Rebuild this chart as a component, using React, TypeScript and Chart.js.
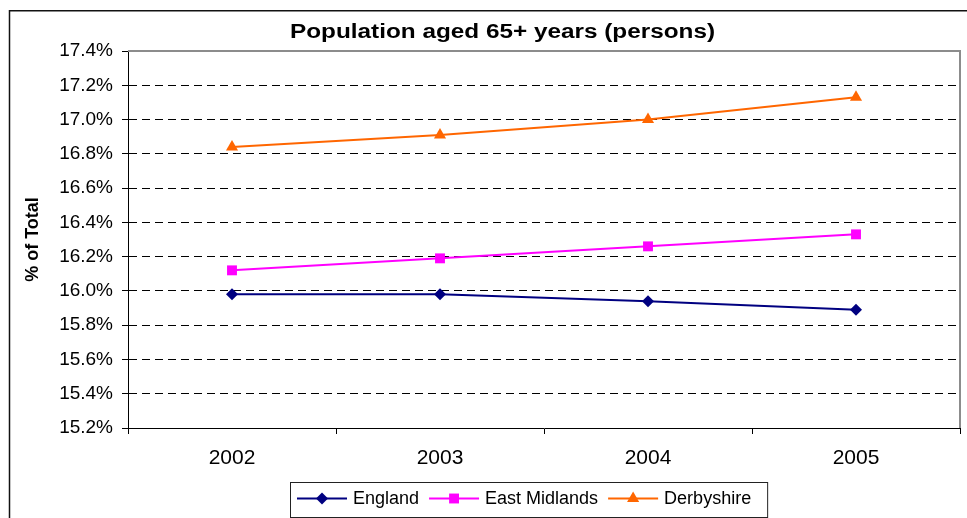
import React, { useEffect, useRef } from 'react';
import { Chart, registerables } from 'chart.js';

Chart.register(...registerables);

// Share of the population aged 65 and over, per area and year
const years = ['2002', '2003', '2004', '2005'];
const england = [15.98, 15.98, 15.94, 15.89];
const eastMidlands = [16.12, 16.19, 16.26, 16.33];
const derbyshire = [16.84, 16.91, 17.0, 17.13];

const seriesLabels = ['England', 'East Midlands', 'Derbyshire'];
const yMin = 15.2;
const yMax = 17.4;
const yStep = 0.2;

const chartTitle = 'Population aged 65+ years (persons)';
const yAxisTitle = '% of Total';

const FONT = '"Liberation Sans", Arial, Helvetica, sans-serif';

function drawMarker(ctx: CanvasRenderingContext2D, style: string, x: number, y: number, r: number, color: string) {
  ctx.save();
  ctx.fillStyle = color;
  ctx.beginPath();
  if (style === 'rectRot') {
    ctx.moveTo(x, y - r);
    ctx.lineTo(x + r, y);
    ctx.lineTo(x, y + r);
    ctx.lineTo(x - r, y);
  } else if (style === 'rect') {
    const s = r * Math.SQRT1_2;
    ctx.rect(x - s, y - s, 2 * s, 2 * s);
  } else {
    for (let i = 0; i < 3; i++) {
      const a = (i * 2 * Math.PI) / 3;
      const px = x + Math.sin(a) * r;
      const py = y - Math.cos(a) * r;
      if (i === 0) ctx.moveTo(px, py);
      else ctx.lineTo(px, py);
    }
  }
  ctx.closePath();
  ctx.fill();
  ctx.restore();
}

// White page, outer frame and the grey top/right edges of the plot area
const framePlugin = {
  id: 'frame',
  beforeDraw(chart: any) {
    const { ctx, width, height } = chart;
    ctx.save();
    ctx.fillStyle = '#ffffff';
    ctx.fillRect(0, 0, width, height);
    ctx.strokeStyle = '#111';
    ctx.lineWidth = 1.5;
    ctx.beginPath();
    ctx.moveTo(9.5, height);
    ctx.lineTo(9.5, 10.75);
    ctx.lineTo(width, 10.75);
    ctx.stroke();
    ctx.restore();
  },
  beforeDatasetsDraw(chart: any) {
    const { ctx, chartArea } = chart;
    ctx.save();
    ctx.strokeStyle = '#8c8c8c';
    ctx.lineWidth = 2;
    ctx.beginPath();
    ctx.moveTo(chartArea.left, chartArea.top);
    ctx.lineTo(chartArea.right, chartArea.top);
    ctx.lineTo(chartArea.right, chartArea.bottom);
    ctx.stroke();
    ctx.restore();
  },
};

// Bold chart heading, widened to the heading's box
const titlePlugin = {
  id: 'wideTitle',
  afterDraw(chart: any) {
    const { ctx } = chart;
    ctx.save();
    ctx.font = `bold 20px ${FONT}`;
    ctx.fillStyle = '#000';
    ctx.textAlign = 'center';
    ctx.textBaseline = 'alphabetic';
    const w = ctx.measureText(chartTitle).width;
    const sx = 425 / w;
    ctx.translate(502.5, 37.5);
    ctx.scale(sx, 1);
    ctx.fillText(chartTitle, 0, 0);
    ctx.restore();
  },
};

// Boxed legend below the axis: line sample with marker, then the label
const legendPlugin = {
  id: 'boxLegend',
  afterDraw(chart: any) {
    const { ctx } = chart;
    ctx.save();
    ctx.font = `18px ${FONT}`;
    const lineLen = 50;
    const gap = 6;
    const itemGap = 10;
    const padL = 7;
    const padR = 16;
    const items = chart.data.datasets.map((ds: any) => ({
      label: ds.label,
      color: ds.borderColor,
      style: ds.pointStyle,
      r: ds.pointRadius,
      w: ctx.measureText(ds.label).width,
    }));
    let total = padL + padR;
    items.forEach((it: any, i: number) => {
      total += lineLen + gap + it.w + (i < items.length - 1 ? itemGap : 0);
    });
    const left = 290;
    const top = 482;
    const boxH = 35;
    ctx.fillStyle = '#fff';
    ctx.fillRect(left, top, total, boxH);
    ctx.strokeStyle = '#222';
    ctx.lineWidth = 1;
    ctx.strokeRect(left + 0.5, top + 0.5, total, boxH);
    const cy = top + 16.5;
    let x = left + padL;
    items.forEach((it: any) => {
      ctx.strokeStyle = it.color;
      ctx.lineWidth = 2;
      ctx.beginPath();
      ctx.moveTo(x, cy);
      ctx.lineTo(x + lineLen, cy);
      ctx.stroke();
      drawMarker(ctx, it.style, x + lineLen / 2, cy, it.r, it.color);
      ctx.fillStyle = '#000';
      ctx.textAlign = 'left';
      ctx.textBaseline = 'middle';
      ctx.fillText(it.label, x + lineLen + gap, cy + 1);
      x += lineLen + gap + it.w + itemGap;
    });
    ctx.restore();
  },
};

export default function App() {
  const canvasRef = useRef<HTMLCanvasElement | null>(null);

  useEffect(() => {
    const canvas = canvasRef.current;
    if (!canvas) return;
    const chart = new Chart(canvas, {
      type: 'line',
      data: {
        labels: years,
        datasets: [
          {
            label: seriesLabels[0],
            data: england,
            borderColor: '#000080',
            backgroundColor: '#000080',
            pointBackgroundColor: '#000080',
            pointBorderWidth: 0,
            pointStyle: 'rectRot',
            pointRadius: 6,
            borderWidth: 2,
            tension: 0,
          },
          {
            label: seriesLabels[1],
            data: eastMidlands,
            borderColor: '#ff00ff',
            backgroundColor: '#ff00ff',
            pointBackgroundColor: '#ff00ff',
            pointBorderWidth: 0,
            pointStyle: 'rect',
            pointRadius: 7,
            borderWidth: 2,
            tension: 0,
          },
          {
            label: seriesLabels[2],
            data: derbyshire,
            borderColor: '#ff6600',
            backgroundColor: '#ff6600',
            pointBackgroundColor: '#ff6600',
            pointBorderWidth: 0,
            pointStyle: 'triangle',
            pointRadius: 7,
            borderWidth: 2,
            tension: 0,
          },
        ],
      },
      options: {
        responsive: false,
        animation: false,
        events: [],
        layout: { padding: { left: 0, right: 4, top: 51, bottom: 0 } },
        plugins: {
          legend: { display: false },
          title: { display: false },
          tooltip: { enabled: false },
        },
        scales: {
          x: {
            type: 'category',
            offset: true,
            afterFit: (scale: any) => {
              scale.height = 90;
            },
            grid: {
              offset: true,
              drawOnChartArea: false,
              drawTicks: true,
              tickLength: 6,
              tickColor: '#000',
              color: '#000',
            },
            border: { display: true, color: '#000', width: 1 },
            ticks: {
              color: '#000',
              font: { family: FONT, size: 21 },
              padding: 12,
              maxRotation: 0,
              autoSkip: false,
            },
          },
          y: {
            type: 'linear',
            min: yMin,
            max: yMax,
            afterFit: (scale: any) => {
              scale.width = 128;
            },
            grid: {
              drawTicks: true,
              tickLength: 6,
              tickColor: '#000',
              color: (c: any) => (c.tick && c.tick.value >= yMax - 1e-6 ? 'rgba(0,0,0,0)' : '#000'),
              lineWidth: 1,
            },
            border: { display: true, color: '#000', width: 1, dash: [8, 5] },
            ticks: {
              stepSize: yStep,
              autoSkip: false,
              color: '#000',
              font: { family: FONT, size: 19 },
              padding: 9,
              callback: (v: any) => Number(v).toFixed(1) + '%',
            },
            title: {
              display: true,
              text: yAxisTitle,
              color: '#000',
              font: { family: FONT, size: 18, weight: 'bold' },
              padding: { top: 22, bottom: 0 },
            },
          },
        },
      },
      plugins: [framePlugin, titlePlugin, legendPlugin],
    });
    return () => chart.destroy();
  }, []);

  return (
    <div style={{ position: 'absolute', left: 0, top: 0, width: 967, height: 518 }}>
      <canvas ref={canvasRef} width={967} height={518} style={{ display: 'block', width: 967, height: 518 }} />
    </div>
  );
}
